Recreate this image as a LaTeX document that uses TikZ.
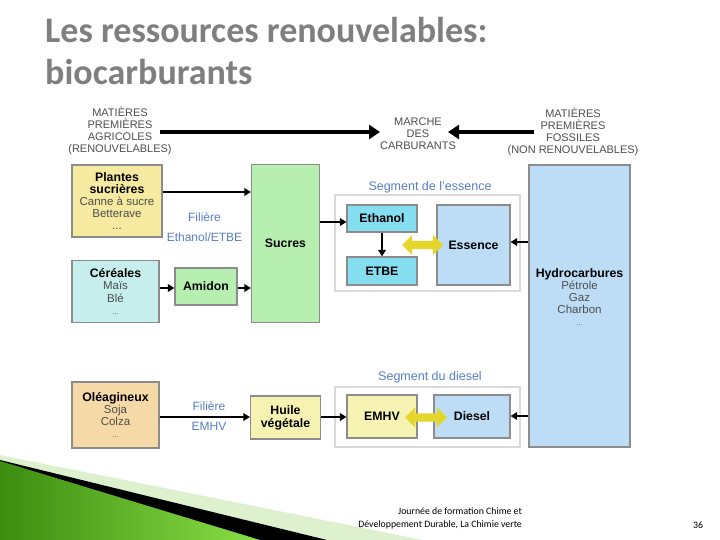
\documentclass[tikz,border=0pt]{standalone}
\usepackage{fontspec}
\setmainfont{Liberation Sans}
\newfontfamily\calib{Carlito}
\usetikzlibrary{arrows.meta,shapes.arrows}
\definecolor{boxgray}{HTML}{8C8C8C}
\definecolor{ylw}{HTML}{F6EAA0}
\definecolor{ylwlt}{HTML}{F6F3B2}
\definecolor{grn}{HTML}{B6EFB0}
\definecolor{cer}{HTML}{C6EEEC}
\definecolor{cyanb}{HTML}{84DEF0}
\definecolor{blub}{HTML}{BDDDF6}
\definecolor{tan}{HTML}{F5D9A6}
\definecolor{bluetxt}{HTML}{5A7DC6}
\definecolor{yarrow}{HTML}{E4D62A}
\definecolor{titlegray}{HTML}{7F7F7F}
\definecolor{lblgray}{HTML}{4E4E4E}
\definecolor{lgreen}{HTML}{DDF1CF}
\definecolor{dgreen}{HTML}{3C8C10}
\definecolor{bgreen}{HTML}{8ADF46}
\newcommand{\bt}[1]{\textbf{\textcolor{black}{\fontsize{12.3}{12.2}\selectfont #1}}}
\begin{document}
\begin{tikzpicture}[x=1pt,y=-1pt,
  box/.style={draw=boxgray, line width=1.1pt, inner sep=0pt, align=center,
    font=\fontsize{11.5}{12.2}\selectfont, text=lblgray},
  boldbox/.style={box, text=black, font=\bfseries\fontsize{12.3}{12.8}\selectfont},
  container/.style={draw=black!15, line width=1.6pt, fill=white, inner sep=0pt},
  toplabel/.style={align=center, font=\fontsize{11}{11.8}\selectfont, text=lblgray, inner sep=0pt},
  bluelbl/.style={align=center, font=\fontsize{12}{20}\selectfont, text=bluetxt, inner sep=0pt},
  seglbl/.style={font=\fontsize{12.5}{14}\selectfont, text=bluetxt, inner sep=0pt},
  arr/.style={-{Triangle[length=6.5pt,width=7.5pt]}, line width=2pt, black},
  bigarr/.style={-{Triangle[length=11pt,width=14pt]}, line width=4pt, black},
  yarr/.style={double arrow, fill=yarrow, draw=none, inner sep=4pt, minimum width=0pt,
    double arrow head extend=6pt, double arrow head indent=0pt},
  titlefont/.style={anchor=base west, inner sep=0pt, text=titlegray, font=\calib\bfseries\fontsize{36}{40}\selectfont}
]
\useasboundingbox (0,0) rectangle (720,540);
\fill[white] (0,0) rectangle (720,540);

% title
\node[titlefont] (t1) at (45,43) {Les ressources renouvelables:};
\node[titlefont] (t2) at (45,85) {biocarburants};

% top labels
\node[toplabel] (agri) at (120,131) {MATIÈRES\\PREMIÈRES\\AGRICOLES\\(RENOUVELABLES)};
\node[toplabel] (marche) at (418,133.5) {MARCHE\\DES\\CARBURANTS};
\node[toplabel] (foss) at (573,132) {MATIÈRES\\PREMIÈRES\\FOSSILES\\(NON RENOUVELABLES)};
\coordinate (a1) at (160,132);
\coordinate (a1t) at (380,132);
\coordinate (a2) at (534,132);
\coordinate (a2t) at (448,132);
\draw[bigarr] (a1) -- (a1t);
\draw[bigarr] (a2) -- (a2t);

% left column
\node[box, fill=ylw, minimum width=90pt, minimum height=72pt] (plantes) at (117,201)
  {\bt{Plantes}\\\bt{sucrières}\\Canne à sucre\\Betterave\\...};
\node[box, fill=cer, minimum width=87pt, minimum height=62pt] (cereales) at (115.5,291.5)
  {\bt{Céréales}\\Maïs\\Blé\\{\fontsize{7}{8}\selectfont ...}};
\node[box, fill=tan, minimum width=87pt, minimum height=66pt] (oleag) at (115.5,415)
  {\bt{Oléagineux}\\Soja\\Colza\\{\fontsize{7}{8}\selectfont ...}};

\node[boldbox, fill=grn, minimum width=62pt, minimum height=37pt] (amidon) at (206,286.5) {Amidon};
\node[boldbox, fill=grn, minimum width=68pt, minimum height=158pt] (sucres) at (285.5,243.5) {Sucres};
\node[boldbox, fill=ylwlt, minimum width=70pt, minimum height=43pt] (huile) at (285.5,417.5) {Huile\\végétale};

\node[bluelbl] (filE) at (204.5,227) {Filière\\Ethanol/ETBE};
\node[bluelbl] (filD) at (209,416) {Filière\\EMHV};

% segment essence
\node[seglbl] (segEl) at (430,187) {Segment de l'essence};
\node[container, minimum width=185pt, minimum height=96pt] (segE) at (427.5,243) {};
\node[boldbox, fill=cyanb, minimum width=70pt, minimum height=27pt] (ethanol) at (382,218.5) {Ethanol};
\node[boldbox, fill=cyanb, minimum width=70pt, minimum height=28pt] (etbe) at (382,271) {ETBE};
\node[boldbox, fill=blub, minimum width=73pt, minimum height=80pt] (essence) at (473.5,245) {Essence};
\node[yarr, minimum height=41pt] (yE) at (422.5,245) {};

% segment diesel
\node[seglbl] (segDl) at (430,377) {Segment du diesel};
\node[container, minimum width=185pt, minimum height=60pt] (segD) at (427.5,417) {};
\node[boldbox, fill=ylwlt, minimum width=70pt, minimum height=43pt] (emhv) at (382,416.5) {EMHV};
\node[boldbox, fill=blub, minimum width=76pt, minimum height=43pt] (diesel) at (472,416.5) {Diesel};
\node[yarr, minimum height=42pt] (yD) at (426,417.5) {};

% hydrocarbures
\node[box, fill=blub, minimum width=101pt, minimum height=282pt] (hydro) at (579.5,306) {};
\node[align=center, inner sep=0pt, text=lblgray, font=\fontsize{11.5}{11.8}\selectfont] (hydt) at (579.5,297)
  {\bt{Hydrocarbures}\\Pétrole\\Gaz\\Charbon\\{\fontsize{7}{8}\selectfont ...}};

% connectors
\draw[arr] (plantes.east |- 0,192) -- (sucres.west |- 0,192);
\draw[arr] (cereales.east |- 0,288) -- (amidon.west |- 0,288);
\draw[arr] (amidon.east |- 0,288) -- (sucres.west |- 0,288);
\draw[arr] (sucres.east |- 0,222) -- (ethanol.west |- 0,222);
\draw[arr] (ethanol.south) -- (etbe.north);
\draw[arr] (hydro.west |- 0,242) -- (essence.east |- 0,242);
\draw[arr] (oleag.east |- 0,417) -- (huile.west |- 0,417);
\draw[arr] (huile.east |- 0,417) -- (emhv.west |- 0,417);
\draw[arr] (hydro.west |- 0,416) -- (diesel.east |- 0,416);

% bottom decoration
\fill[lgreen] (0,455) -- (423,540) -- (0,540) -- cycle;
\fill[black] (0,460) -- (327,540) -- (0,540) -- cycle;
\shade[left color=dgreen, right color=bgreen] (0,461) -- (260,540) -- (0,540) -- cycle;

% footer
\node[align=right, anchor=east, inner sep=0pt, font=\calib\fontsize{9.8}{13}\selectfont] (foot) at (522,518.5)
  {Journée de formation Chime et\\Développement Durable, La Chimie verte};
\node[anchor=base, inner sep=0pt, font=\calib\fontsize{9.8}{10}\selectfont] (pnum) at (698,528) {36};
\end{tikzpicture}
\end{document}
